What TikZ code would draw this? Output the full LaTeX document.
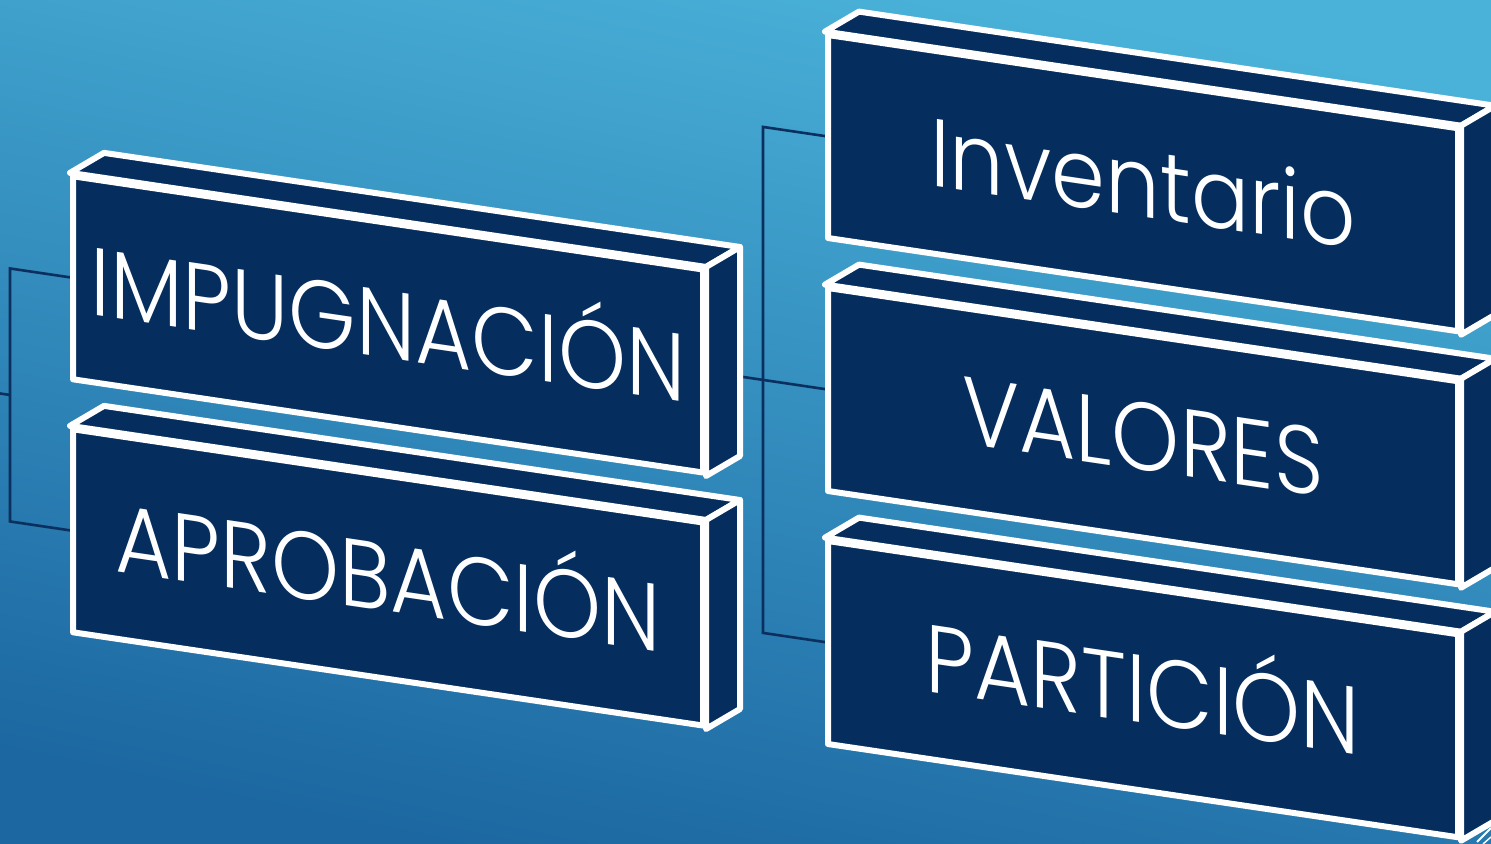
\documentclass[tikz,border=0pt]{standalone}
\usepackage{fontspec}
\setmainfont{Poppins Light}[FakeStretch=0.9]
\usetikzlibrary{positioning,calc}
\definecolor{navy}{HTML}{052D5E}
\definecolor{bgtop}{HTML}{4AB2D9}
\definecolor{bgbot}{HTML}{1C67A1}
\definecolor{linkc}{HTML}{0B2F5E}
\pgfdeclarelayer{bg}
\pgfdeclarelayer{links}
\pgfsetlayers{bg,links,main}
\tikzset{
    box/.style = {
        draw=white,
        fill=navy,
        shape=rectangle,
        minimum width=315pt,
        minimum height=101.5pt,
        inner sep=0pt,
        line width=3pt,
        line join=round,
        text=white,
        text height=34pt,
        text depth=0pt,
        font=\fontsize{48}{56}\selectfont,
        transform shape
    },
    face/.style = {
        draw=white,
        fill=navy,
        line width=3pt,
        line join=round
    },
    link/.style = {
        draw=linkc,
        line width=1.3pt
    },
}

\begin{document}
\begin{tikzpicture}[x=0.5pt, y=0.5pt]
    \useasboundingbox (0,0) rectangle (1491,844);
    \begin{pgfonlayer}{bg}
        \shade[top color=bgtop, bottom color=bgbot, shading angle=-12] (0,0) rectangle (1491,844);
    \end{pgfonlayer}
    \begin{scope}[yslant=-0.148]
        \node[box] (imp) at (388,577) {IMPUGNACIÓN};
        \node[box] (apr) at (388,324) {APROBACIÓN};
        \node[box] (inv) at (1143,830) {Inventario};
        \node[box] (val) at (1143,577) {VALORES};
        \node[box] (par) at (1143,324) {PARTICIÓN};

        % depth of the blocks
        \foreach \n in {imp,apr,inv,val,par} {
            \path[face] (\n.north west) -- ++(34,25) -- ($(\n.north east)+(34,25)$) -- (\n.north east) -- cycle;
            \path[face] (\n.north east) -- ++(34,25) -- ($(\n.south east)+(34,25)$) -- (\n.south east) -- cycle;
        }

        \begin{pgfonlayer}{links}
            \path[link] (imp.west) -- ++(-60,0) coordinate (lt) -- ($(apr.west)+(-60,0)$) coordinate (lb) -- (apr.west);
            \coordinate (lmid) at ($(lt)!0.5!(lb)$);
            \path[link] (lmid) -- ++(-20,0);

            \path[link] (inv.west) -- ++(-62,0) coordinate (rt) -- ($(par.west)+(-62,0)$) -- (par.west);
            \path[link] (imp.east) -- (val.west);
        \end{pgfonlayer}
    \end{scope}
    \draw[white, line width=1pt] (1477,2) -- (1491,16);
    \draw[white, line width=0.7pt] (1483,0) -- (1491,7);
\end{tikzpicture}
\end{document}
